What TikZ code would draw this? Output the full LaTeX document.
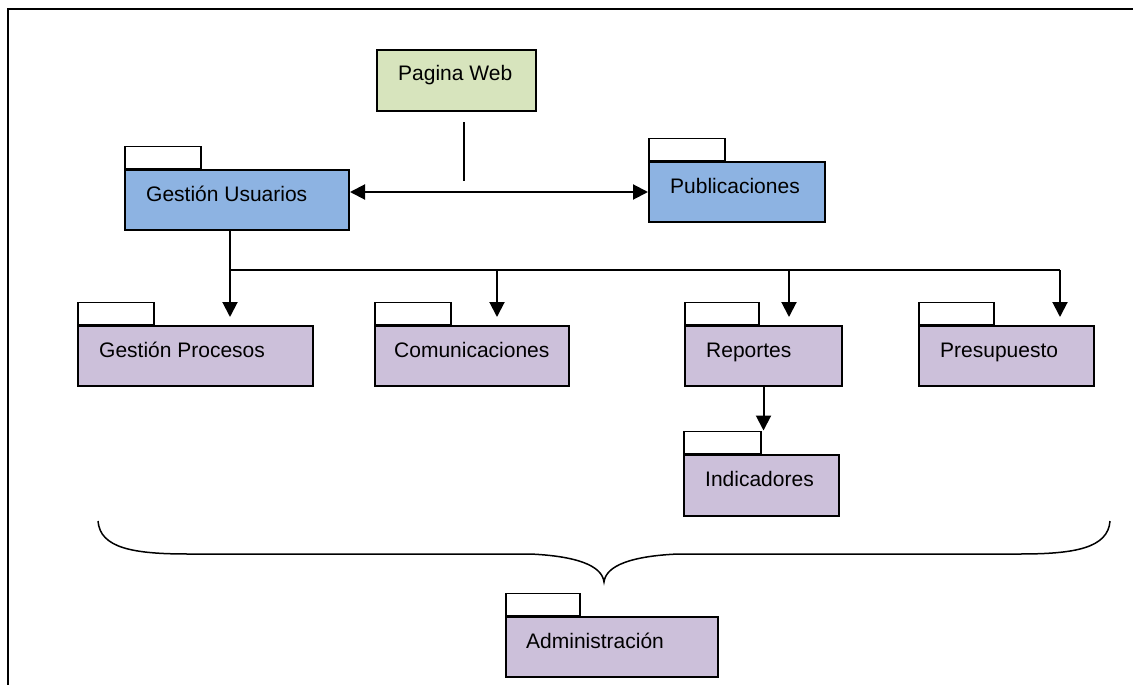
\documentclass[tikz,border=0pt]{standalone}
\usepackage{fontspec}
\setmainfont{Liberation Sans}
\usetikzlibrary{arrows.meta}
\definecolor{pkgblue}{HTML}{8DB3E2}
\definecolor{pkglila}{HTML}{CCC0DA}
\definecolor{webgreen}{HTML}{D7E4BD}
\begin{document}
\begin{tikzpicture}[
		x=1pt, y=-1pt,
		font=\fontsize{21}{25}\selectfont,
		>={Triangle[length=15pt,width=15pt]},
		pkg/.style={draw, line width=2pt, fill=#1, anchor=north west, minimum height=60pt, inner sep=0pt},
		tab/.style={draw, line width=1.5pt, fill=white, anchor=south west, minimum width=76pt, minimum height=22pt, inner sep=0pt},
		pkgtext/.style={anchor=base west, inner sep=0pt},
		link/.style={line width=1.3pt},
		dep/.style={line width=2pt}
	]
	\useasboundingbox (0,0) rectangle (1133,685);
	% frame
	\draw[line width=2pt] (8,685) -- (8,9) -- (1133,9);

	\node[pkg=webgreen, minimum width=159pt, minimum height=61pt] (web) at (376,49) {};
	\node[pkgtext] (webtxt) at ([xshift=22pt,yshift=-32pt]web.north west) {Pagina Web};

	\node[pkg=pkgblue, minimum width=224pt] (usu) at (124,169) {};
	\node[tab] (usutab) at (usu.north west) {};
	\node[pkgtext] (usutxt) at ([xshift=22pt,yshift=-32pt]usu.north west) {Gestión Usuarios};

	\node[pkg=pkgblue, minimum width=176pt] (pub) at (648,161) {};
	\node[tab] (pubtab) at (pub.north west) {};
	\node[pkgtext] (pubtxt) at ([xshift=22pt,yshift=-32pt]pub.north west) {Publicaciones};

	\node[pkg=pkglila, minimum width=235pt] (proc) at (77,325) {};
	\node[tab] (proctab) at (proc.north west) {};
	\node[pkgtext] (proctxt) at ([xshift=22pt,yshift=-32pt]proc.north west) {Gestión Procesos};

	\node[pkg=pkglila, minimum width=194pt] (com) at (374,325) {};
	\node[tab] (comtab) at (com.north west) {};
	\node[pkgtext] (comtxt) at ([xshift=20pt,yshift=-32pt]com.north west) {Comunicaciones};

	\node[pkg=pkglila, minimum width=157pt] (rep) at (684,325) {};
	\node[tab, minimum width=74pt] (reptab) at (rep.north west) {};
	\node[pkgtext] (reptxt) at ([xshift=22pt,yshift=-32pt]rep.north west) {Reportes};

	\node[pkg=pkglila, minimum width=175pt] (pre) at (918,325) {};
	\node[tab, minimum width=75pt] (pretab) at (pre.north west) {};
	\node[pkgtext] (pretxt) at ([xshift=22pt,yshift=-32pt]pre.north west) {Presupuesto};

	\node[pkg=pkglila, minimum width=155pt, minimum height=61pt] (ind) at (683,454) {};
	\node[tab, minimum width=77pt] (indtab) at (ind.north west) {};
	\node[pkgtext] (indtxt) at ([xshift=22pt,yshift=-32pt]ind.north west) {Indicadores};

	\node[pkg=pkglila, minimum width=212pt] (adm) at (505,616) {};
	\node[tab, minimum width=74pt] (admtab) at (adm.north west) {};
	\node[pkgtext] (admtxt) at ([xshift=21pt,yshift=-32pt]adm.north west) {Administración};

	% web link
	\coordinate (webA) at (464,122);
	\coordinate (webB) at (464,181);
	\draw[link] (webA) -- (webB);
	\draw[dep, <->] (usu.east |- pub.west) -- (pub.west);

	% tree
	\coordinate (d1) at (230,270);
	\coordinate (d2) at (497,270);
	\coordinate (d3) at (789,270);
	\coordinate (d4) at (1060,270);
	\draw[link] (d1 |- usu.south) -- (d1) -- (d4);
	\draw[dep, ->, shorten >=8pt] (d1) -- (d1 |- proc.north);
	\draw[dep, ->, shorten >=8pt] (d2) -- (d2 |- com.north);
	\draw[dep, ->, shorten >=8pt] (d3) -- (d3 |- rep.north);
	\draw[dep, ->, shorten >=8pt] (d4) -- (d4 |- pre.north);
	\draw[dep, ->] (rep.south) -- (rep.south |- indtab.north);

	% brace
	\draw[line width=1.5pt] (98,521) .. controls (100,548) and (133,554) .. (188,554)
		-- (530,554) .. controls (575,556) and (602,565) .. (604,582)
		.. controls (606,565) and (633,556) .. (678,554)
		-- (1020,554) .. controls (1075,554) and (1108,548) .. (1110,521);
\end{tikzpicture}
\end{document}
